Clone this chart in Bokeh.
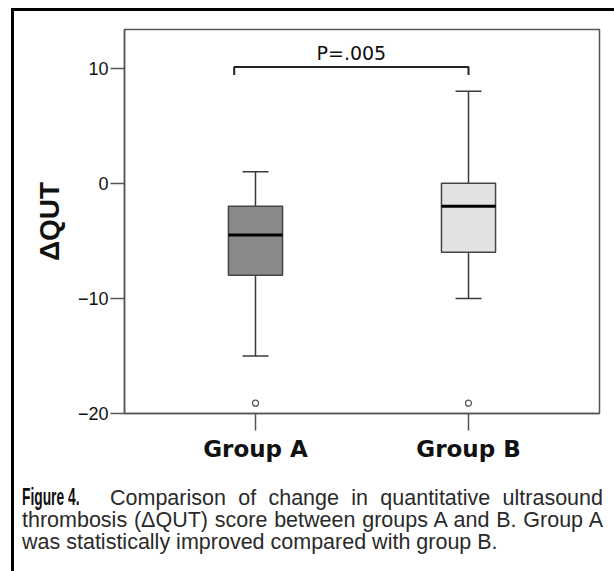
from bokeh.plotting import figure
from bokeh.models import Range1d, FixedTicker, Div
from bokeh.layouts import column
from bokeh.embed import file_html
from bokeh.resources import INLINE
from bokeh.core.properties import value

# ---- data ----
groups = ["Group A", "Group B"]
group_pos = [1, 2]
q1 = [-8.0, -6.0]
median = [-4.5, -2.0]
q3 = [-2.0, 0.0]
whisker_low = [-15.0, -10.0]
whisker_high = [1.0, 8.0]
outlier_pos = [1, 2]
outlier_val = [-19.1, -19.1]
box_colors = ["#8a8a8a", "#e2e2e2"]
y_ticks = [-20, -10, 0, 10]
y_tick_labels = ["\u221220", "\u221210", "0", "10"]
p_label = "P=.005"
bracket_x = [0.9, 0.9, 2.0, 2.0]
bracket_y = [9.4, 10.1, 10.1, 9.4]

BOX_W = 0.254
CAP_W = 0.122

p = figure(width=592, height=470,
           x_range=Range1d(0.385, 2.615), y_range=Range1d(-20, 13.36),
           output_backend="svg", toolbar_location=None,
           min_border_left=110, min_border_right=7,
           min_border_top=18, min_border_bottom=68)
p.xgrid.visible = False
p.ygrid.visible = False
p.outline_line_color = "#555555"
p.outline_line_width = 1.5
p.background_fill_color = "white"
p.border_fill_color = "white"

line_col = "#3a3a3a"
# whiskers
p.segment(x0=group_pos, y0=q3, x1=group_pos, y1=whisker_high, line_color=line_col, line_width=1.5)
p.segment(x0=group_pos, y0=q1, x1=group_pos, y1=whisker_low, line_color=line_col, line_width=1.5)
# caps
p.segment(x0=[g - CAP_W / 2 for g in group_pos], y0=whisker_high,
          x1=[g + CAP_W / 2 for g in group_pos], y1=whisker_high, line_color=line_col, line_width=1.5)
p.segment(x0=[g - CAP_W / 2 for g in group_pos], y0=whisker_low,
          x1=[g + CAP_W / 2 for g in group_pos], y1=whisker_low, line_color=line_col, line_width=1.5)
# boxes
p.vbar(x=group_pos, bottom=q1, top=q3, width=BOX_W, fill_color=box_colors,
       line_color="#444444", line_width=1.5)
# medians
p.segment(x0=[g - BOX_W / 2 for g in group_pos], y0=median,
          x1=[g + BOX_W / 2 for g in group_pos], y1=median, line_color="black", line_width=3)
# outliers
p.scatter(x=outlier_pos, y=outlier_val, marker="circle", size=6,
          fill_color="white", line_color="#555555", line_width=1.2)

# significance bracket
p.line(x=bracket_x, y=bracket_y, line_color="#222222", line_width=2)
p.text(x=[(bracket_x[0] + bracket_x[-1]) / 2], y=[11.3], text=[p_label],
       text_font=value("DejaVu Sans"), text_font_size="19px",
       text_align="center", text_baseline="middle", text_color="#111111")

# axes
for ax in (p.xaxis, p.yaxis):
    ax.axis_line_color = "#555555"
    ax.axis_line_width = 1.5
    ax.major_tick_line_color = "#555555"
    ax.major_tick_line_width = 1.5
    ax.major_tick_in = 0
    ax.minor_tick_in = 0
    ax.minor_tick_out = 0
    ax.major_label_text_color = "#111111"

p.xaxis.ticker = FixedTicker(ticks=group_pos)
p.xaxis.major_label_overrides = {g: n for g, n in zip(group_pos, groups)}
p.xaxis.major_tick_out = 17
p.xaxis.major_label_standoff = 5
p.xaxis.major_label_text_font = "DejaVu Sans"
p.xaxis.major_label_text_font_style = "bold"
p.xaxis.major_label_text_font_size = "23px"

p.yaxis.ticker = FixedTicker(ticks=y_ticks)
p.yaxis.major_label_overrides = {t: l for t, l in zip(y_ticks, y_tick_labels)}
p.yaxis.major_tick_out = 14
p.yaxis.major_label_standoff = 2
p.yaxis.major_label_text_font = "Liberation Sans"
p.yaxis.major_label_text_font_size = "18px"
p.yaxis.axis_label = "\u0394QUT"
p.yaxis.axis_label_text_font = "Liberation Sans"
p.yaxis.axis_label_text_font_style = "bold"
p.yaxis.axis_label_text_font_size = "28px"
p.yaxis.axis_label_text_color = "#111111"
p.yaxis.axis_label_standoff = 10

line_style = "white-space:nowrap;text-align:justify;text-align-last:justify;"
cap_html = (
    '<div style="width:592px;box-sizing:border-box;padding:0 3px 0 8px;'
    'font-family:\'Liberation Sans\',Arial,sans-serif;'
    'font-size:21.5px;line-height:22px;color:#2a2a2a;">'
    f'<div style="{line_style}">'
    '<span style="display:inline-block;width:88px;text-align:left;text-align-last:left;">'
    '<span style="display:inline-block;transform:scaleX(0.6);transform-origin:left center;'
    'font-weight:bold;font-size:23px;color:#111;">Figure&nbsp;4.</span></span>'
    'Comparison of change in quantitative ultrasound</div>'
    f'<div style="{line_style}">thrombosis (\u0394QUT) score between groups A and B. Group A</div>'
    '<div style="white-space:nowrap;text-align:left;text-align-last:left;">'
    'was statistically improved compared with group B.</div>'
    '</div>'
)
cap = Div(text=cap_html, width=592, height=85, margin=(5, 0, 0, 0))

layout = column(p, cap, styles={"border-left": "3px solid black",
                                "border-top": "3px solid black",
                                "margin-left": "11px",
                                "margin-top": "8px",
                                "padding-right": "8px"})

open("out.html", "w").write(file_html(layout, INLINE))
